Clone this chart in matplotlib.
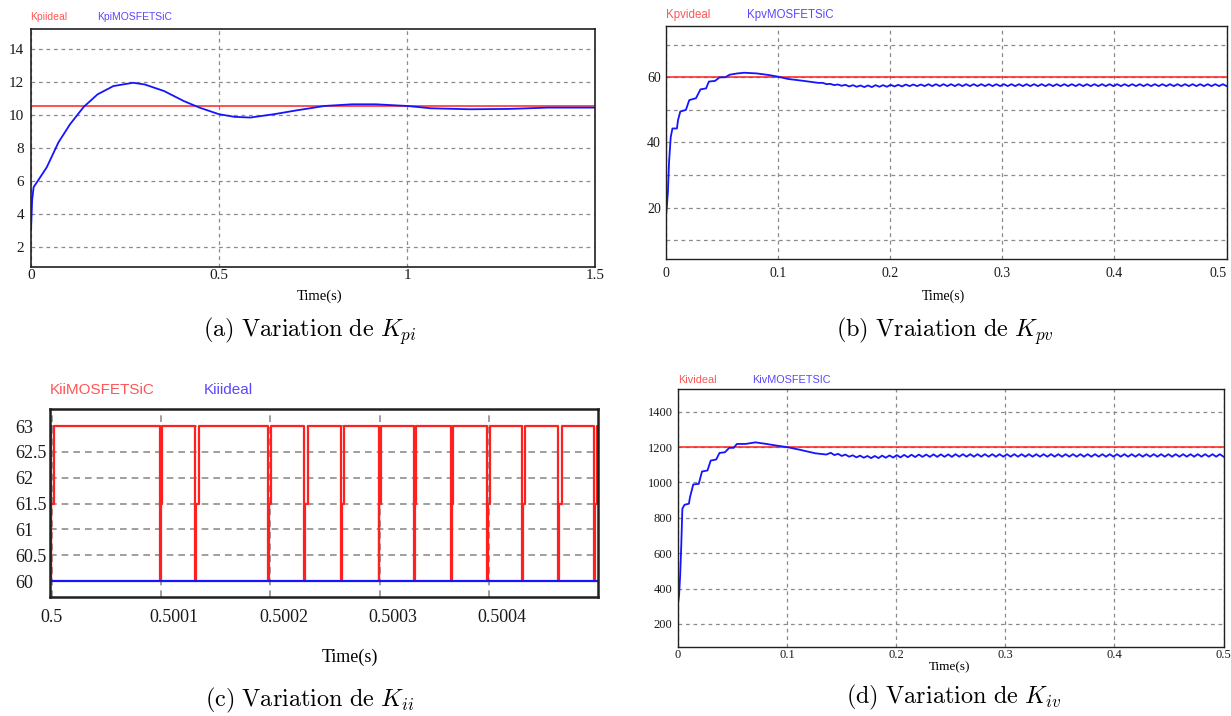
import numpy as np
import matplotlib
matplotlib.use("Agg")
from matplotlib import pyplot as plt
from matplotlib.transforms import ScaledTranslation

plt.rcParams['mathtext.fontset'] = 'cm'

# ---- (a) Kpi ----
kpi_ideal = 10.52
kpi_t = [0, 0.003, 0.007, 0.016, 0.042, 0.073, 0.104, 0.14, 0.177, 0.219, 0.271, 0.302,
         0.354, 0.406, 0.448, 0.5, 0.542, 0.583, 0.646, 0.708, 0.781, 0.854, 0.917,
         1.0, 1.0625, 1.167, 1.27, 1.375, 1.5]
kpi_y = [3.04, 4.84, 5.64, 5.94, 6.84, 8.34, 9.44, 10.48, 11.24, 11.74, 11.94, 11.84,
         11.44, 10.84, 10.44, 10.04, 9.88, 9.84, 10.04, 10.28, 10.54, 10.64, 10.64,
         10.54, 10.4, 10.34, 10.36, 10.44, 10.44]

# ---- (b) Kpv ----
kpv_ideal = 60
kpv_t = [0, 0.001, 0.002, 0.003, 0.0045, 0.006, 0.01, 0.011, 0.013, 0.018, 0.021, 0.027,
         0.031, 0.036, 0.0385, 0.044, 0.048, 0.053, 0.057, 0.064, 0.070, 0.081, 0.092,
         0.1, 0.109, 0.123, 0.136]
kpv_y = [16.7, 20.3, 25.0, 34.1, 41.7, 44.3, 44.3, 46.9, 49.5, 50.0, 53.0, 53.6,
         56.3, 56.6, 58.7, 58.9, 60.0, 60.0, 60.8, 61.2, 61.4, 61.2, 60.7,
         60.2, 59.5, 58.9, 58.3]
# settled ripple: peaks / troughs, one per ripple period from 0.14 s to 0.5 s
kpv_peak = [58.3, 58.0, 57.8, 57.7, 57.6, 57.5, 57.5, 57.6, 57.6,
            57.7, 57.7, 57.8, 57.8, 57.8, 57.9, 57.9, 57.9, 57.9, 57.9,
            57.9, 57.9, 57.9, 57.9, 57.9, 57.9, 57.9, 57.9, 57.9, 57.9,
            57.9, 57.9, 57.9, 57.9, 57.9, 57.9, 57.9, 57.9, 57.9, 57.9,
            57.9, 57.9, 57.9, 57.9, 57.9, 57.9, 57.9, 57.9, 57.9, 57.9,
            57.9, 57.9, 57.9, 57.9, 57.9]
kpv_trough = [57.9, 57.6, 57.4, 57.2, 57.1, 57.0, 57.0, 57.1, 57.1,
              57.2, 57.2, 57.3, 57.3, 57.3, 57.3, 57.3, 57.3, 57.3, 57.3,
              57.3, 57.3, 57.3, 57.3, 57.3, 57.3, 57.3, 57.3, 57.3, 57.3,
              57.3, 57.3, 57.3, 57.3, 57.3, 57.3, 57.3, 57.3, 57.3, 57.3,
              57.3, 57.3, 57.3, 57.3, 57.3, 57.3, 57.3, 57.3, 57.3, 57.3,
              57.3, 57.3, 57.3, 57.3, 57.3]

# ---- (c) Kii (time offsets in microseconds after 0.5 s) ----
kii_ideal = 60
kii_hi, kii_mid, kii_lo = 63, 61.5, 60
kii_dip_us = [-0.8, 99.2, 131.3, 198.2, 231.0, 265.0, 299.0, 331.4, 365.3, 398.4,
              430.4, 463.2, 496.3]
kii_dip_w = [2.5, 1.8, 3.3, 2.3, 3.3, 2.3, 2.3, 2.0, 2.0, 2.0, 2.7, 3.2, 2.5]

# ---- (d) Kiv ----
kiv_ideal = 1200
kiv_t = [0, 0.001, 0.002, 0.003, 0.004, 0.006, 0.01, 0.011, 0.014, 0.019, 0.022, 0.027,
         0.030, 0.035, 0.038, 0.043, 0.047, 0.051, 0.054, 0.062, 0.071, 0.081, 0.09,
         0.1, 0.111, 0.126, 0.136]
kiv_y = [316, 363, 476, 645, 852, 874, 880, 917, 989, 992, 1062, 1068,
         1124, 1130, 1167, 1171, 1196, 1196, 1218, 1218, 1227, 1218, 1209,
         1200, 1186, 1165, 1158]
kiv_peak = [1168, 1162, 1158, 1154, 1152, 1150, 1150, 1152, 1153,
            1155, 1156, 1157, 1158, 1158, 1159, 1159, 1159, 1160, 1160,
            1160, 1160, 1160, 1160, 1160, 1160, 1160, 1160, 1160, 1160,
            1160, 1160, 1160, 1160, 1160, 1160, 1160, 1160, 1160, 1160,
            1160, 1160, 1160, 1160, 1160, 1160, 1160, 1160, 1160, 1160,
            1160, 1160, 1160, 1160, 1160]
kiv_trough = [1155, 1150, 1146, 1142, 1140, 1138, 1138, 1140, 1141,
              1142, 1143, 1144, 1145, 1145, 1145, 1145, 1145, 1146, 1146,
              1146, 1146, 1146, 1146, 1146, 1146, 1146, 1146, 1146, 1146,
              1146, 1146, 1146, 1146, 1146, 1146, 1146, 1146, 1146, 1146,
              1146, 1146, 1146, 1146, 1146, 1146, 1146, 1146, 1146, 1146,
              1146, 1146, 1146, 1146, 1146]

W, H = 1231, 716
RED, BLUE = '#ff2020', '#1414ff'
RED_TXT, BLUE_TXT = '#ff5555', '#5a46ff'
SERIF = 'Liberation Serif'

fig = plt.figure(figsize=(W / 100, H / 100), dpi=100)


def box(l, t, r, b):
    return fig.add_axes([l / W, 1 - b / H, (r - l) / W, (b - t) / H])


def ftext(x, y, s, **kw):
    fig.text(x / W, 1 - y / H, s, **kw)


def ripple(t0, t1, peak, trough):
    tt = np.linspace(t0, t1, 2 * len(peak))
    yy = np.empty(2 * len(peak))
    yy[0::2] = peak
    yy[1::2] = trough
    return tt, yy


def style(ax, size, lw=1.0, dash=(3, 3), gcol='#8a8a8a', glw=0.9):
    ax.grid(True, color=gcol, linestyle=(0, dash), linewidth=glw)
    ax.tick_params(length=0, labelsize=size, labelcolor='#1a1a1a')
    for lab in ax.get_xticklabels() + ax.get_yticklabels():
        lab.set_family(SERIF)
    for sp in ax.spines.values():
        sp.set_linewidth(lw)
        sp.set_color('#202020')


# (a)
ax = box(31, 29.3, 595, 266.7)
ax.plot([0, 1.5], [kpi_ideal, kpi_ideal], color=RED, lw=1.1)
ax.plot(kpi_t, kpi_y, color=BLUE, lw=1.3)
ax.set_xlim(0, 1.5)
ax.set_ylim(0.83, 15.17)
ax.set_xticks([0, 0.5, 1, 1.5], ['0', '0.5', '1', '1.5'])
ax.set_yticks(range(2, 15, 2))
ax.tick_params(axis='x', pad=2)
ax.tick_params(axis='y', pad=5)
style(ax, 11, lw=1.2)
ftext(30.5, 16.7, 'Kpiideal', color=RED_TXT, fontsize=7.5, family='Liberation Sans', va='center')
ftext(97, 16.7, 'KpiMOSFETSiC', color=BLUE_TXT, fontsize=7.5, family='Liberation Sans', va='center')
ftext(320, 296.7, 'Time(s)', fontsize=10.5, family=SERIF, ha='center', va='center')
ftext(310, 331, r'$\mathrm{(a)\ Variation\ de\ }K_{pi}$', fontsize=17.5, ha='center', va='center')

# (b)
ax = box(665.7, 26, 1226.6, 259.3)
ax.plot([0, 0.5], [kpv_ideal, kpv_ideal], color=RED, lw=1.1)
rt, ry = ripple(0.14, 0.5, kpv_peak, kpv_trough)
ax.plot(np.concatenate([kpv_t, rt]), np.concatenate([kpv_y, ry]), color=BLUE, lw=1.3)
ax.set_xlim(0, 0.5)
ax.set_ylim(4.15, 75.75)
ax.set_xticks([0, 0.1, 0.2, 0.3, 0.4, 0.5], ['0', '0.1', '0.2', '0.3', '0.4', '0.5'])
ax.set_yticks(range(10, 80, 10), ['', '20', '', '40', '', '60', ''])
ax.tick_params(axis='x', pad=5.5)
ax.tick_params(axis='y', pad=3.5)
style(ax, 10)
ax.get_xticklabels()[-1].set_ha('right')
ftext(666, 15, 'Kpvideal', color=RED_TXT, fontsize=8.3, family='Liberation Sans', va='center')
ftext(747, 15, 'KpvMOSFETSiC', color=BLUE_TXT, fontsize=8.3, family='Liberation Sans', va='center')
ftext(943, 296.7, 'Time(s)', fontsize=10, family=SERIF, ha='center', va='center')
ftext(945, 331, r'$\mathrm{(b)\ Vraiation\ de\ }K_{pv}$', fontsize=17.5, ha='center', va='center')

# (c)
ax = box(49.6, 409, 598.4, 596.7)
us_t, us_y = [-2.0], [kii_hi]
for s, w in zip(kii_dip_us, kii_dip_w):
    us_t += [s, s, s + 0.4, s + 0.4, s + w, s + w]
    us_y += [kii_hi, kii_lo, kii_lo, kii_mid, kii_mid, kii_hi]
us_t.append(510.0)
us_y.append(kii_hi)
kii_t = 0.5 + np.array(us_t) * 1e-6
ax.plot(kii_t, us_y, color=RED, lw=1.6)
ax.plot([kii_t[0], kii_t[-1]], [kii_ideal, kii_ideal], color=BLUE, lw=1.6)
ax.set_xlim(0.499998, 0.5005)
ax.set_ylim(59.70, 63.33)
ax.set_xticks([0.5, 0.5001, 0.5002, 0.5003, 0.5004],
              ['0.5', '0.5001', '0.5002', '0.5003', '0.5004'])
ax.set_yticks(np.arange(60, 63.01, 0.5), ['60', '60.5', '61', '61.5', '62', '62.5', '63'])
ax.tick_params(axis='x', pad=8.5)
ax.tick_params(axis='y', pad=25)
style(ax, 13, lw=1.8, dash=(4, 3), gcol='#8f8f8f', glw=1.2)
for lab in ax.get_yticklabels():
    lab.set_ha('left')
for lab in ax.get_xticklabels()[1:]:
    lab.set_transform(lab.get_transform() + ScaledTranslation(0.13, 0, fig.dpi_scale_trans))
ftext(50, 390, 'KiiMOSFETSiC', color=RED_TXT, fontsize=11, family='Liberation Sans', va='center')
ftext(204, 390, 'Kiiideal', color=BLUE_TXT, fontsize=11, family='Liberation Sans', va='center')
ftext(350, 657, 'Time(s)', fontsize=13, family=SERIF, ha='center', va='center')
ftext(310, 700, r'$\mathrm{(c)\ Variation\ de\ }K_{ii}$', fontsize=17.5, ha='center', va='center')

# (d)
ax = box(678, 389.3, 1223.5, 647.3)
ax.plot([0, 0.5], [kiv_ideal, kiv_ideal], color=RED, lw=1.1)
rt, ry = ripple(0.14, 0.5, kiv_peak, kiv_trough)
ax.plot(np.concatenate([kiv_t, rt]), np.concatenate([kiv_y, ry]), color=BLUE, lw=1.3)
ax.set_xlim(0, 0.5)
ax.set_ylim(68, 1527)
ax.set_xticks([0, 0.1, 0.2, 0.3, 0.4, 0.5], ['0', '0.1', '0.2', '0.3', '0.4', '0.5'])
ax.set_yticks(range(200, 1401, 200))
ax.tick_params(axis='x', pad=1.5)
ax.tick_params(axis='y', pad=4)
style(ax, 9)
ftext(678, 380, 'Kivideal', color=RED_TXT, fontsize=7.8, family='Liberation Sans', va='center')
ftext(752, 380, 'KivMOSFETSIC', color=BLUE_TXT, fontsize=7.8, family='Liberation Sans', va='center')
ftext(950, 667, 'Time(s)', fontsize=9.5, family=SERIF, ha='center', va='center')
ftext(954, 697, r'$\mathrm{(d)\ Variation\ de\ }K_{iv}$', fontsize=17.5, ha='center', va='center')

fig.savefig('out.png', dpi=100)
